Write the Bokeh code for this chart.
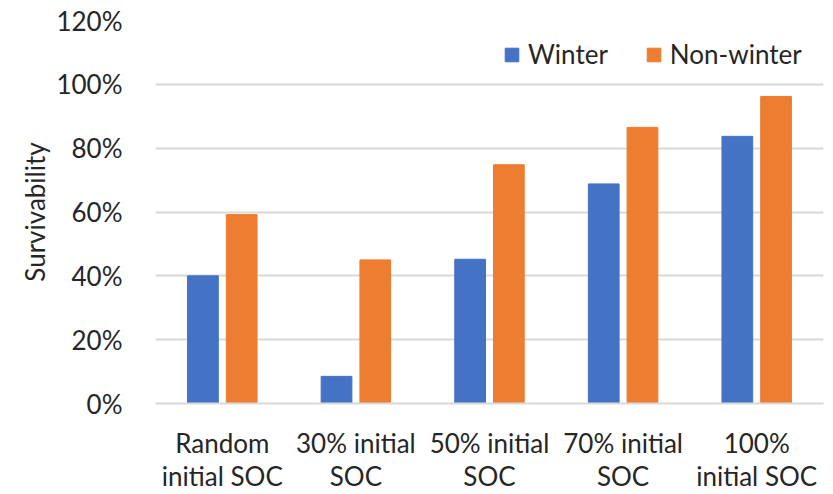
from bokeh.plotting import figure
from bokeh.models import (FactorRange, Range1d, NumeralTickFormatter, Legend, LegendItem,
                          ColumnDataSource, FixedTicker, CategoricalAxis, CustomJSTickFormatter)
from bokeh.transform import dodge
from bokeh.embed import file_html
from bokeh.resources import INLINE

# Survivability per initial state-of-charge scenario
categories = ["Random initial SOC", "30% initial SOC", "50% initial SOC", "70% initial SOC", "100% initial SOC"]
tick_labels = ["Random\ninitial SOC", "30% initial\nSOC", "50% initial\nSOC", "70% initial\nSOC", "100%\ninitial SOC"]
winter = [0.40, 0.085, 0.452, 0.688, 0.837]
non_winter = [0.592, 0.450, 0.748, 0.865, 0.962]
y_ticks = [0.0, 0.2, 0.4, 0.6, 0.8, 1.0, 1.2]

FONT = "Lato"
SIZE = "26px"
TEXT = "#262626"
GRID = "#D9D9D9"

src = ColumnDataSource(data=dict(cat=categories, winter=winter, non_winter=non_winter))

p = figure(
    width=833, height=494,
    x_range=FactorRange(*categories, range_padding=0),
    y_range=Range1d(0, 1.2),
    output_backend="svg", toolbar_location=None,
    min_border_left=155, min_border_right=10, min_border_top=20, min_border_bottom=89,
)
p.outline_line_color = None
p.background_fill_color = "white"

r_w = p.vbar(x=dodge("cat", -0.145, range=p.x_range), top="winter", width=0.23,
             source=src, fill_color="#4472C4", line_color="#4472C4")
r_n = p.vbar(x=dodge("cat", 0.145, range=p.x_range), top="non_winter", width=0.23,
             source=src, fill_color="#ED7D31", line_color="#ED7D31")

# y axis
p.yaxis.ticker = FixedTicker(ticks=y_ticks)
p.yaxis.formatter = NumeralTickFormatter(format="0%")
p.yaxis.axis_line_color = None
p.yaxis.major_tick_line_color = None
p.yaxis.minor_tick_line_color = None
p.yaxis.major_label_text_font = FONT
p.yaxis.major_label_text_font_size = SIZE
p.yaxis.major_label_text_color = TEXT
p.yaxis.major_label_standoff = 27
p.yaxis.axis_label = "Survivability"
p.yaxis.axis_label_text_font = FONT
p.yaxis.axis_label_text_font_size = SIZE
p.yaxis.axis_label_text_font_style = "normal"
p.yaxis.axis_label_text_color = TEXT
p.yaxis.axis_label_standoff = 2

# two stacked category axes carry the two lines of each category name
first_lines = {c: t.split("\n")[0] for c, t in zip(categories, tick_labels)}
second_lines = {c: t.split("\n")[1] for c, t in zip(categories, tick_labels)}

xa = p.xaxis[0]
xa.axis_line_color = GRID
xa.axis_line_width = 2
xa.major_tick_line_color = None
xa.minor_tick_line_color = None
xa.formatter = CustomJSTickFormatter(args=dict(m=first_lines), code="return m[tick]")
xa.major_label_text_font = FONT
xa.major_label_text_font_size = SIZE
xa.major_label_text_color = TEXT
xa.major_label_standoff = 17

xa2 = CategoricalAxis(
    axis_line_color=None, major_tick_line_color=None, minor_tick_line_color=None,
    formatter=CustomJSTickFormatter(args=dict(m=second_lines), code="return m[tick]"),
    major_label_text_font=FONT, major_label_text_font_size=SIZE,
    major_label_text_color=TEXT, major_label_standoff=-8,
)
p.add_layout(xa2, "below")

p.xgrid.grid_line_color = None
p.ygrid.grid_line_color = GRID
p.ygrid.grid_line_width = 2

legend = Legend(
    items=[LegendItem(label="Winter", renderers=[r_w]),
           LegendItem(label="Non-winter", renderers=[r_n])],
    orientation="horizontal",
    location=(348, 333),
    label_text_font=FONT, label_text_font_size=SIZE, label_text_color=TEXT,
    glyph_width=17, glyph_height=17, label_standoff=8, spacing=37,
    padding=0, margin=0,
    border_line_color=None, background_fill_alpha=0,
)
p.add_layout(legend)

open("out.html", "w").write(file_html(p, INLINE))
